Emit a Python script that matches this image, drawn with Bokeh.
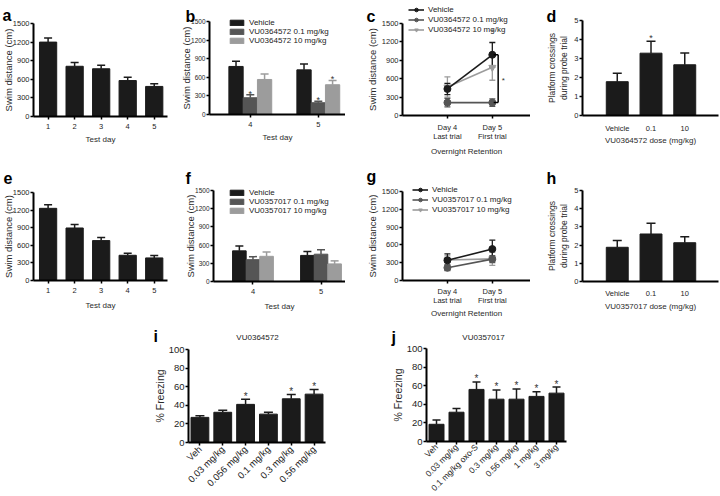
import math
from bokeh.plotting import figure
from bokeh.layouts import column, row
from bokeh.models import (ColumnDataSource, Whisker, TeeHead, Label, Legend, LegendItem,
                          FixedTicker, Range1d, Spacer)
from bokeh.core.properties import value
from bokeh.embed import file_html
from bokeh.resources import INLINE

FONT = "Liberation Sans"
BLACK = "#1b1b1b"
DARK = "#555555"
LIGHT = "#9c9c9c"

# ---------------- data ----------------
swim_ticks = [0, 300, 600, 900, 1200, 1500]
cross_ticks = [0, 1, 2, 3, 4, 5]
freeze_ticks = [0, 20, 40, 60, 80, 100]

a_days = [1, 2, 3, 4, 5]
a_mean = [1200, 810, 770, 580, 485]
a_sem = [65, 60, 55, 55, 45]
e_mean = [1230, 895, 680, 430, 385]
e_sem = [60, 60, 55, 35, 40]

b_days = [4, 5]
b_series = ["Vehicle", "VU0364572 0.1 mg/kg", "VU0364572 10 mg/kg"]
b_veh = [775, 720]
b_veh_sem = [85, 95]
b_low = [270, 190]
b_low_sem = [50, 25]
b_high = [565, 480]
b_high_sem = [90, 70]
b_star_veh = [False, False]
b_star_low = [True, True]
b_star_high = [False, True]

f_series = ["Vehicle", "VU0357017 0.1 mg/kg", "VU0357017 10 mg/kg"]
f_veh = [505, 430]
f_veh_sem = [80, 65]
f_low = [360, 450]
f_low_sem = [50, 75]
f_high = [415, 290]
f_high_sem = [70, 50]
f_star = [False, False]

c_days = [4, 5]
c_day_labels = ["Day 4\nLast trial", "Day 5\nFirst trial"]
c_veh = [433, 990]
c_veh_sem = [92, 200]
c_low = [210, 210]
c_low_sem = [70, 60]
c_high = [465, 785]
c_high_sem = [165, 210]

g_veh = [340, 530]
g_veh_sem = [110, 150]
g_low = [215, 360]
g_low_sem = [50, 60]
g_high = [345, 365]
g_high_sem = [70, 110]

dose_x = [1, 2, 3]
dose_labels = ["Vehicle", "0.1", "10"]
d_mean = [1.78, 3.28, 2.67]
d_sem = [0.45, 0.63, 0.62]
d_star = [False, True, False]
h_mean = [1.88, 2.61, 2.13]
h_sem = [0.37, 0.59, 0.33]
h_star = [False, False, False]

i_doses = ["Veh", "0.03 mg/kg", "0.056 mg/kg", "0.1 mg/kg", "0.3 mg/kg", "0.56 mg/kg"]
i_mean = [27, 32.5, 41, 30.5, 47, 52]
i_sem = [1.7, 2.2, 5.5, 2.0, 4.7, 5.0]
i_star = [False, False, True, False, True, True]

j_doses = ["Veh", "0.03 mg/kg", "0.1 mg/kg oxo-S", "0.3 mg/kg", "0.56 mg/kg", "1 mg/kg", "3 mg/kg"]
j_mean = [18.5, 31.5, 56, 45.5, 45.5, 48.5, 52]
j_sem = [4.5, 4, 8, 10, 11, 5, 6.5]
j_star = [False, False, True, True, True, True, True]


# ---------------- helpers ----------------
def panel(x0, y0, w, h, fl, fr, ft, fb, xlo, xhi, ylo, yhi, tick_px="7.5px", title_px="9.5px"):
    """Figure occupying page box (x0,y0,w,h); the data box xlo..xhi / ylo..yhi sits at
    page pixels fl..fr / fb..ft.  Axes are pinned to the data box edges."""
    sx = (fr - fl) / (xhi - xlo)
    sy = (fb - ft) / (yhi - ylo)
    xr = Range1d(xlo - (fl - x0) / sx, xhi + (x0 + w - fr) / sx)
    yr = Range1d(ylo - (y0 + h - fb) / sy, yhi + (ft - y0) / sy)
    p = figure(width=w, height=h, x_range=xr, y_range=yr, output_backend="svg",
               toolbar_location=None, min_border=0)
    p.title.visible = False
    p.outline_line_color = None
    p.xgrid.visible = False
    p.ygrid.visible = False
    p.background_fill_color = "white"
    p.border_fill_color = "white"
    for ax in p.axis:
        ax.axis_line_width = 2
        ax.axis_line_color = "black"
        ax.major_tick_line_width = 1.5
        ax.major_tick_line_color = "black"
        ax.major_tick_out = 3
        ax.major_tick_in = 0
        ax.minor_tick_line_color = None
        ax.major_label_text_font = FONT
        ax.major_label_text_font_size = tick_px
        ax.major_label_text_color = "#1e1e1e"
        ax.axis_label_text_font = FONT
        ax.axis_label_text_font_size = title_px
        ax.axis_label_text_font_style = "normal"
        ax.axis_label_text_color = "#2a2a2a"
    p.xaxis.fixed_location = ylo
    p.xaxis.bounds = (xlo, xhi)
    p.yaxis.fixed_location = xlo
    p.yaxis.bounds = (ylo, yhi)
    p.yaxis.major_label_standoff = 1
    p.yaxis.axis_label_standoff = 1
    p.xaxis.major_label_standoff = 4
    p.xaxis.axis_label_standoff = 3
    p.xaxis.axis_label_text_font_size = "8px"
    return p, (x0, y0 + h)


def add_label(p, org, x, y, text, size="8px", bold=False, align="left", color="#222222"):
    ox, oy = org
    p.add_layout(Label(x=x - ox, y=oy - y, x_units="screen", y_units="screen", text=text,
                       text_font=FONT, text_font_size=size,
                       text_font_style="bold" if bold else "normal",
                       text_align=align, text_baseline="alphabetic", text_color=color))


def bars(p, x, mean, sem, width, color, stars, cap=8, star_px="9px", star_off=-1):
    up = [m + s for m, s in zip(mean, sem)]
    src = ColumnDataSource(dict(x=x, top=mean, up=up))
    r = p.vbar(x="x", top="top", bottom=0, width=width, source=src,
               fill_color=color, line_color=color)
    p.add_layout(Whisker(base="x", upper="up", lower="top", source=src,
                         line_color=color, line_width=1.5, lower_head=None,
                         upper_head=TeeHead(size=cap, line_color=color, line_width=1.5)))
    sx = [xx for xx, s in zip(x, stars) if s]
    sy = [u for u, s in zip(up, stars) if s]
    if sx:
        p.text(x=sx, y=sy, text=["*"] * len(sx), text_font=value(FONT),
               text_font_size=star_px, text_align="center", text_baseline="alphabetic",
               text_color="#333333", y_offset=star_off)
    return r


def series(p, x, mean, sem, color, marker):
    src = ColumnDataSource(dict(x=x, y=mean, lo=[m - s for m, s in zip(mean, sem)],
                                hi=[m + s for m, s in zip(mean, sem)]))
    p.add_layout(Whisker(base="x", upper="hi", lower="lo", source=src, line_color=color,
                         line_width=1.3,
                         upper_head=TeeHead(size=6, line_color=color, line_width=1.3),
                         lower_head=TeeHead(size=6, line_color=color, line_width=1.3)))
    ln = p.line("x", "y", source=src, line_color=color, line_width=1.6)
    sc = p.scatter("x", "y", source=src, marker=marker, size=7, fill_color=color,
                   line_color=color)
    return [ln, sc]


def make_legend(p, org, items, left, bottom, gw, gh, lh):
    ox, oy = org
    lg = Legend(items=items, location=(left - ox, oy - bottom))
    lg.background_fill_alpha = 0
    lg.border_line_color = None
    lg.padding = 0
    lg.margin = 0
    lg.spacing = 0
    lg.glyph_width = gw
    lg.glyph_height = gh
    lg.label_height = lh
    lg.label_standoff = 4
    lg.label_text_font = FONT
    lg.label_text_font_size = "8px"
    lg.label_text_color = "#222222"
    lg.label_text_line_height = 1.0
    p.add_layout(lg)


# ---------------- row 1 ----------------
pa, oa = panel(0, 0, 172, 160, 33, 167, 23, 116, 0.45, 5.5, 0, 1500)
bars(pa, a_days, a_mean, a_sem, 0.65, BLACK, [False] * 5)
pa.xaxis.ticker = FixedTicker(ticks=a_days)
pa.yaxis.ticker = FixedTicker(ticks=swim_ticks)
pa.xaxis.axis_label = "Test day"
pa.yaxis.axis_label = "Swim distance (cm)"
pa.yaxis.axis_label_standoff = -4
add_label(pa, oa, 2, 15, "a", size="16px", bold=True, color="black")

pb, ob = panel(172, 0, 173, 160, 209, 345, 21, 114, 3.40, 5.40, 0, 1500)
rb = []
for k, (m, s, col, st) in enumerate([(b_veh, b_veh_sem, BLACK, b_star_veh),
                                      (b_low, b_low_sem, DARK, b_star_low),
                                      (b_high, b_high_sem, LIGHT, b_star_high)]):
    xs = [d + (k - 1) * 0.21 for d in b_days]
    rb.append(bars(pb, xs, m, s, 0.21, col, st, cap=8))
pb.xaxis.ticker = FixedTicker(ticks=b_days)
pb.yaxis.ticker = FixedTicker(ticks=swim_ticks)
pb.yaxis.major_label_text_font_size = "6.5px"
pb.yaxis.axis_label_standoff = -4
pb.xaxis.axis_label = "Test day"
pb.yaxis.axis_label = "Swim distance (cm)"
make_legend(pb, ob, [LegendItem(label=lab, renderers=[r]) for lab, r in zip(b_series, rb)],
            228, 45, 17, 7, 9)
add_label(pb, ob, 185, 16, "b", size="16px", bold=True, color="black")

pc, oc = panel(345, 0, 185, 160, 402, 530, 23, 115, 3.0, 5.85, 0, 1500)
rc_high = series(pc, c_days, c_high, c_high_sem, LIGHT, "inverted_triangle")
rc_low = series(pc, c_days, c_low, c_low_sem, DARK, "circle")
rc_veh = series(pc, c_days, c_veh, c_veh_sem, BLACK, "circle")
pc.xaxis.ticker = FixedTicker(ticks=c_days)
pc.xaxis.major_label_overrides = {d: lab for d, lab in zip(c_days, c_day_labels)}
pc.xaxis.major_label_text_line_height = 1.05
pc.yaxis.ticker = FixedTicker(ticks=swim_ticks)
pc.xaxis.axis_label = "Overnight Retention"
pc.yaxis.axis_label = "Swim distance (cm)"
bx = c_days[1] + 0.13
pc.segment(x0=[bx, c_days[1] + 0.03, c_days[1] + 0.03], y0=[c_low[1], c_veh[1], c_low[1]],
           x1=[bx, bx, bx], y1=[c_veh[1], c_veh[1], c_low[1]], line_color="black", line_width=1.5)
pc.text(x=[bx + 0.08], y=[(c_veh[1] + c_low[1]) / 2], text=["*"], text_font=value(FONT),
        text_font_size="8px", text_align="left", text_baseline="middle", text_color="#333333",
        y_offset=2)
pc.text(x=[c_days[1]], y=[c_veh[1] + c_veh_sem[1]], text=["+"], text_font=value(FONT),
        text_font_size="7px", text_align="center", text_baseline="alphabetic",
        text_color="#555555", y_offset=-12)
make_legend(pc, oc, [LegendItem(label=b_series[0], renderers=rc_veh),
                     LegendItem(label=b_series[1], renderers=rc_low),
                     LegendItem(label=b_series[2], renderers=rc_high)],
            408, 34, 16, 9, 10)
add_label(pc, oc, 366, 16, "c", size="16px", bold=True, color="black")

pd_, od = panel(530, 0, 190, 160, 582, 718, 20, 115, -0.03, 4.0, 0, 5)
bars(pd_, dose_x, d_mean, d_sem, 0.65, BLACK, d_star, cap=9, star_off=-3)
pd_.xaxis.ticker = FixedTicker(ticks=dose_x)
pd_.xaxis.major_label_overrides = {x: lab for x, lab in zip(dose_x, dose_labels)}
pd_.xaxis.major_tick_out = 0
pd_.xaxis.major_label_standoff = 8
pd_.xaxis.axis_label_standoff = 0
pd_.yaxis.ticker = FixedTicker(ticks=cross_ticks)
pd_.xaxis.axis_label = "VU0364572 dose (mg/kg)"
pd_.yaxis.axis_label = "Platform crossings\nduring probe trial"
pd_.yaxis.axis_label_text_font_size = "8.5px"
pd_.yaxis.axis_label_standoff = 2
add_label(pd_, od, 546, 16, "d", size="16px", bold=True, color="black")

# ---------------- row 2 ----------------
pe, oe = panel(0, 160, 172, 158, 33, 167, 192, 280, 0.45, 5.5, 0, 1500)
bars(pe, a_days, e_mean, e_sem, 0.65, BLACK, [False] * 5)
pe.xaxis.ticker = FixedTicker(ticks=a_days)
pe.yaxis.ticker = FixedTicker(ticks=swim_ticks)
pe.xaxis.axis_label = "Test day"
pe.yaxis.axis_label = "Swim distance (cm)"
pe.yaxis.axis_label_standoff = -4
pe.xaxis.axis_label_standoff = 5
add_label(pe, oe, 3, 177, "e", size="16px", bold=True, color="black")

pf, of = panel(172, 160, 173, 158, 213, 345, 190, 281, 3.42, 5.36, 0, 1500)
rf = []
for k, (m, s, col) in enumerate([(f_veh, f_veh_sem, BLACK), (f_low, f_low_sem, DARK),
                                  (f_high, f_high_sem, LIGHT)]):
    xs = [d + (k - 1) * 0.2 for d in b_days]
    rf.append(bars(pf, xs, m, s, 0.2, col, f_star, cap=8))
pf.xaxis.ticker = FixedTicker(ticks=b_days)
pf.yaxis.ticker = FixedTicker(ticks=swim_ticks)
pf.yaxis.major_label_text_font_size = "6.5px"
pf.yaxis.axis_label_standoff = -4
pf.xaxis.axis_label = "Test day"
pf.yaxis.axis_label = "Swim distance (cm)"
pf.xaxis.axis_label_standoff = 5
make_legend(pf, of, [LegendItem(label=lab, renderers=[r]) for lab, r in zip(f_series, rf)],
            228, 215, 17, 7, 9)
add_label(pf, of, 185, 178, "f", size="16px", bold=True, color="black")

pg, og = panel(345, 160, 185, 158, 402, 530, 191, 280, 3.0, 5.85, 0, 1500)
rg_high = series(pg, c_days, g_high, g_high_sem, LIGHT, "inverted_triangle")
rg_low = series(pg, c_days, g_low, g_low_sem, DARK, "circle")
rg_veh = series(pg, c_days, g_veh, g_veh_sem, BLACK, "circle")
pg.xaxis.ticker = FixedTicker(ticks=c_days)
pg.xaxis.major_label_overrides = {d: lab for d, lab in zip(c_days, c_day_labels)}
pg.xaxis.major_label_text_line_height = 1.0
pg.xaxis.major_label_standoff = 3
pg.xaxis.axis_label_standoff = 1
pg.yaxis.ticker = FixedTicker(ticks=swim_ticks)
pg.xaxis.axis_label = "Overnight Retention"
pg.yaxis.axis_label = "Swim distance (cm)"
make_legend(pg, og, [LegendItem(label=f_series[0], renderers=rg_veh),
                     LegendItem(label=f_series[1], renderers=rg_low),
                     LegendItem(label=f_series[2], renderers=rg_high)],
            412, 214, 16, 9, 10)
add_label(pg, og, 366, 176, "g", size="16px", bold=True, color="black")

ph, oh = panel(530, 160, 190, 158, 582, 718, 190, 281, -0.03, 4.0, 0, 5)
bars(ph, dose_x, h_mean, h_sem, 0.65, BLACK, h_star, cap=9)
ph.xaxis.ticker = FixedTicker(ticks=dose_x)
ph.xaxis.major_label_overrides = {x: lab for x, lab in zip(dose_x, dose_labels)}
ph.xaxis.major_tick_out = 0
ph.xaxis.major_label_standoff = 7
ph.xaxis.axis_label_standoff = 1
ph.yaxis.ticker = FixedTicker(ticks=cross_ticks)
ph.xaxis.axis_label = "VU0357017 dose (mg/kg)"
ph.yaxis.axis_label = "Platform crossings\nduring probe trial"
ph.yaxis.axis_label_text_font_size = "8.5px"
ph.yaxis.axis_label_standoff = 2
add_label(ph, oh, 546, 178, "h", size="16px", bold=True, color="black")

# ---------------- row 3 ----------------
i_x = list(range(len(i_doses)))
pi_, oi = panel(140, 318, 210, 178, 188, 325, 349, 442, -0.5, len(i_doses) - 0.5, 0, 100,
                tick_px="9.5px", title_px="10.5px")
bars(pi_, i_x, i_mean, i_sem, 0.78, BLACK, i_star, cap=9, star_px="10px", star_off=-3)
pi_.xaxis.ticker = FixedTicker(ticks=i_x)
pi_.xaxis.major_label_overrides = {x: lab for x, lab in zip(i_x, i_doses)}
pi_.xaxis.major_label_text_font_size = "9.5px"
pi_.yaxis.ticker = FixedTicker(ticks=freeze_ticks)
pi_.xaxis.major_label_orientation = math.pi / 4
pi_.xaxis.major_label_standoff = 2
pi_.yaxis.axis_label = "% Freezing"
pi_.yaxis.axis_label_standoff = 0
add_label(pi_, oi, 153, 336, "i", size="16px", bold=True, color="black")
add_label(pi_, oi, 257, 337, "VU0364572", size="8px", align="center")

j_x = list(range(len(j_doses)))
pj, oj = panel(350, 318, 230, 178, 426, 566, 348, 441, -0.5, len(j_doses) - 0.5, 0, 100,
               tick_px="9.5px", title_px="10.5px")
bars(pj, j_x, j_mean, j_sem, 0.75, BLACK, j_star, cap=8, star_px="10px", star_off=-3)
pj.xaxis.ticker = FixedTicker(ticks=j_x)
pj.xaxis.major_label_overrides = {x: lab for x, lab in zip(j_x, j_doses)}
pj.xaxis.major_label_text_font_size = "8.5px"
pj.yaxis.ticker = FixedTicker(ticks=freeze_ticks)
pj.xaxis.major_label_orientation = math.pi / 4
pj.xaxis.major_label_standoff = 1
pj.yaxis.axis_label = "% Freezing"
pj.yaxis.axis_label_standoff = 0
add_label(pj, oj, 391, 337, "j", size="16px", bold=True, color="black")
add_label(pj, oj, 483, 337, "VU0357017", size="8px", align="center")

layout = column(
    row(pa, pb, pc, pd_),
    row(pe, pf, pg, ph),
    row(Spacer(width=140, height=178), pi_, pj, Spacer(width=140, height=178)),
)

open("out.html", "w").write(file_html(layout, INLINE))
